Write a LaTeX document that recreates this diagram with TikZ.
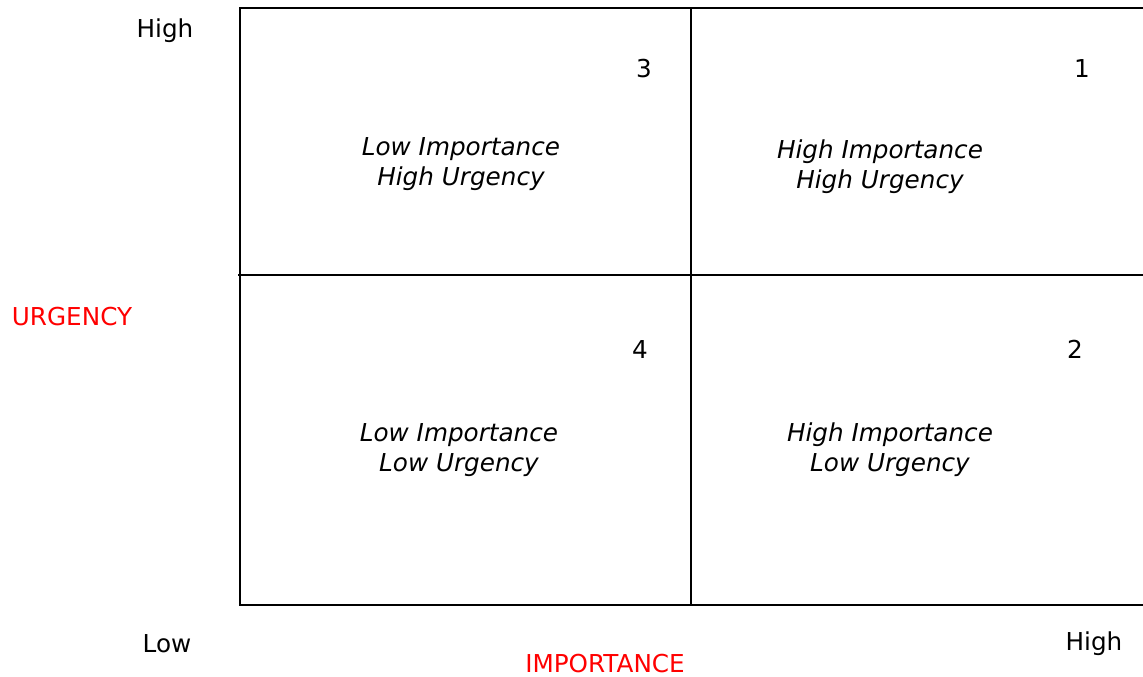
\documentclass[tikz,border=0pt]{standalone}
\usepackage{fontspec}
\setmainfont{DejaVu Sans}
\usepackage{xcolor}

\begin{document}
\begin{tikzpicture}[x=0.75pt, y=-0.75pt,
      every node/.style = {font=\fontsize{18.5}{22.5}\selectfont, inner sep=0pt},
      quadtext/.style = {align=center, font=\fontsize{18.5}{22.5}\selectfont\itshape},
      axisname/.style = {text=red},
      gridline/.style = {line width=1.4pt}]
    \useasboundingbox (0,0) rectangle (1143,676);
    % the four quadrants
    \draw[gridline] (1160,8) -- (240,8) -- (240,605) -- (1160,605);
    \draw[gridline] (691,8) -- (691,605);
    \draw[gridline] (238,275) -- (1160,275);
    % axis labels
    \node (urghigh) at (165,31) {High};
    \node[axisname] (urgency) at (72,317) {URGENCY};
    \node (implow) at (167,644) {Low};
    \node (imphigh) at (1094,644) {High};
    \node[axisname] (importance) at (605,664) {IMPORTANCE};
    % quadrant numbers
    \node (num3) at (644,69) {3};
    \node (num1) at (1082,69) {1};
    \node (num4) at (640,349) {4};
    \node (num2) at (1075,349) {2};
    % quadrant texts
    \node[quadtext] (lowhigh) at (461,164) {Low Importance\\High Urgency};
    \node[quadtext] (highhigh) at (880,167) {High Importance\\High Urgency};
    \node[quadtext] (lowlow) at (459,450) {Low Importance\\Low Urgency};
    \node[quadtext] (highlow) at (890,450) {High Importance\\Low Urgency};
  \end{tikzpicture}
\end{document}
